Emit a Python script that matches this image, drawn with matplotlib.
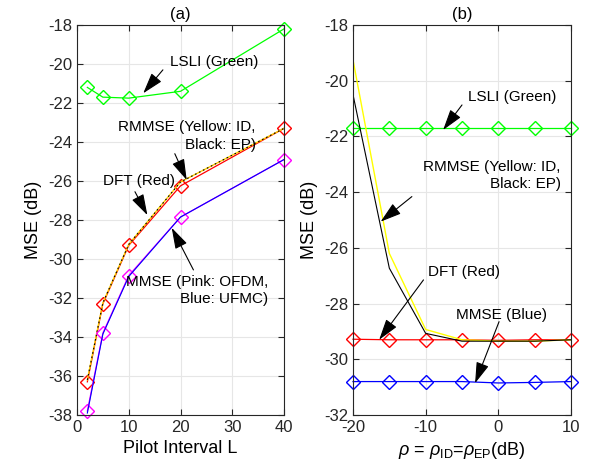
import matplotlib
matplotlib.use("Agg")
import matplotlib.pyplot as plt

plt.rcParams["font.family"] = ["Liberation Sans", "DejaVu Sans"]
plt.rcParams["mathtext.fontset"] = "custom"
plt.rcParams["mathtext.rm"] = "Liberation Sans"
plt.rcParams["mathtext.it"] = "Liberation Sans:italic"
plt.rcParams["axes.unicode_minus"] = False

# (a) MSE vs pilot interval
pilot_L = [2, 5, 10, 20, 40]
lsli_a = [-21.2, -21.7, -21.75, -21.4, -18.2]
dft_a = [-36.3, -32.3, -29.3, -26.25, -23.3]
rmmse_id_a = [-36.2, -32.25, -29.25, -26.05, -23.3]
rmmse_ep_a = [-36.2, -32.25, -29.25, -26.05, -23.3]
mmse_ofdm_a = [-37.8, -33.8, -30.85, -27.85, -24.9]
mmse_ufmc_a = [-37.9, -33.85, -30.9, -27.85, -24.9]

# (b) MSE vs rho
rho = [-20, -15, -10, -5, 0, 5, 10]
lsli_b = [-21.7] * 7
dft_b = [-29.28, -29.3, -29.3, -29.3, -29.32, -29.3, -29.3]
rmmse_id_b = [-19.25, -26.2, -28.93, -29.3, -29.35, -29.35, -29.3]
rmmse_ep_b = [-20.5, -26.73, -29.07, -29.35, -29.35, -29.35, -29.3]
mmse_b = [-30.8, -30.8, -30.8, -30.8, -30.85, -30.83, -30.8]

fig = plt.figure(figsize=(5.92, 4.74), dpi=100)
ax1 = fig.add_axes([77 / 592, 59 / 474, 207 / 592, 390 / 474])
ax2 = fig.add_axes([353 / 592, 59 / 474, 218 / 592, 390 / 474])

mk = dict(marker="D", markersize=7, mfc="none", clip_on=False, lw=0.9)

ax1.plot(pilot_L, lsli_a, color="#00ff00", **mk)
ax1.plot(pilot_L, dft_a, color="red", **mk)
ax1.plot(pilot_L, rmmse_id_a, color="#ffd000", lw=1.0)
ax1.plot(pilot_L, rmmse_ep_a, color="k", lw=0.8, ls=(0, (1.5, 2.5)))
ax1.plot(pilot_L, mmse_ofdm_a, color="#ff00ff", **mk)
ax1.plot(pilot_L, mmse_ufmc_a, color="blue", lw=0.8)

ax2.plot(rho, lsli_b, color="#00ff00", **mk)
ax2.plot(rho, dft_b, color="red", **mk)
ax2.plot(rho, mmse_b, color="blue", **mk)
ax2.plot(rho, rmmse_id_b, color="#ffff00", lw=1.0)
ax2.plot(rho, rmmse_ep_b, color="k", lw=0.8)

arrow = dict(arrowstyle="-|>,head_length=1.3,head_width=0.4", color="k",
             lw=0.8, shrinkA=0, shrinkB=0)
fs = 11

ax1.annotate("", xy=(12.8, -21.5), xytext=(16.6, -20.3), arrowprops=arrow)
ax1.text(18, -19.9, "LSLI (Green)", fontsize=fs, va="center")
ax1.annotate("", xy=(21.2, -25.95), xytext=(18.9, -24.6), arrowprops=arrow)
ax1.text(34.5, -23.7, "RMMSE (Yellow: ID,\nBlack: EP)", fontsize=fs,
         va="center", ha="right", multialignment="right", linespacing=1.3)
ax1.annotate("", xy=(13.6, -27.75), xytext=(11.2, -26.55), arrowprops=arrow)
ax1.text(5, -26.0, "DFT (Red)", fontsize=fs, va="center")
ax1.annotate("", xy=(18.3, -28.4), xytext=(22.5, -30.56), arrowprops=arrow)
ax1.text(37.0, -31.6, "MMSE (Pink: OFDM,\nBlue: UFMC)", fontsize=fs,
         va="center", ha="right", multialignment="right", linespacing=1.3)

ax2.annotate("", xy=(-7.6, -21.77), xytext=(-5.0, -20.87), arrowprops=arrow)
ax2.text(-4.2, -20.57, "LSLI (Green)", fontsize=fs, va="center")
ax2.annotate("", xy=(-16.2, -25.06), xytext=(-11.9, -24.16), arrowprops=arrow)
ax2.text(8.6, -23.4, "RMMSE (Yellow: ID,\nBlack: EP)", fontsize=fs,
         va="center", ha="right", multialignment="right", linespacing=1.3)
ax2.annotate("", xy=(-16.4, -29.3), xytext=(-10.3, -27.15), arrowprops=arrow)
ax2.text(-9.65, -26.85, "DFT (Red)", fontsize=fs, va="center")
ax2.annotate("", xy=(-3.2, -30.86), xytext=(0.1, -28.65), arrowprops=arrow)
ax2.text(-5.8, -28.4, "MMSE (Blue)", fontsize=fs, va="center")

ax1.set_xlim(0, 40)
ax1.set_ylim(-38, -18)
ax1.set_xticks([0, 10, 20, 30, 40])
ax1.set_yticks(range(-38, -17, 2))
ax1.set_xlabel("Pilot Interval L", fontsize=13)
ax1.set_ylabel("MSE (dB)", fontsize=13)
ax1.set_title("(a)", fontsize=12, pad=4)

ax2.set_xlim(-20, 10)
ax2.set_ylim(-32, -18)
ax2.set_xticks([-20, -10, 0, 10])
ax2.set_yticks(range(-32, -17, 2))
ax2.set_xlabel(r"$\rho$ = $\rho_{\rm ID}$=$\rho_{\rm EP}$(dB)", fontsize=13)
ax2.set_ylabel("MSE (dB)", fontsize=13)
ax2.set_title("(b)", fontsize=12, pad=4)

for ax in (ax1, ax2):
    ax.grid(True, color="#e6e6e6", lw=0.8)
    ax.set_axisbelow(True)
    ax.tick_params(direction="in", top=True, right=True, labelsize=12,
                   colors="#262626", length=4)
    for s in ax.spines.values():
        s.set_color("#262626")
        s.set_linewidth(0.8)

fig.savefig("out.png", dpi=100)
